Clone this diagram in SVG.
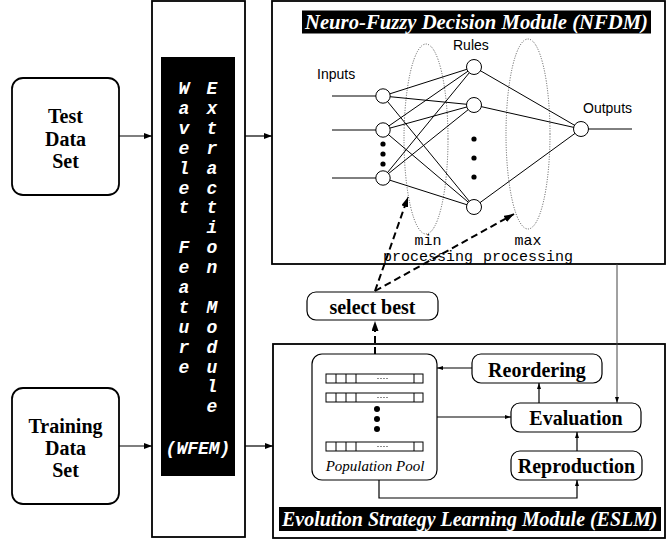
<svg xmlns="http://www.w3.org/2000/svg" width="666" height="542" viewBox="0 0 666 542">
<style>
.box{fill:#fff;stroke:#000;stroke-width:1.8}
.rbox{fill:#fff;stroke:#000;stroke-width:1.2}
.bt{font-family:"Liberation Serif","Times New Roman",serif;font-weight:bold;font-size:20px;fill:#000;text-anchor:middle}
.title{font-family:"Liberation Serif","Times New Roman",serif;font-weight:bold;font-style:italic;font-size:20.5px;fill:#fff}
.vt{font-family:"Liberation Mono","Courier New",monospace;font-weight:bold;font-style:italic;font-size:18px;fill:#fff;text-anchor:middle}
.sans{font-family:"Liberation Sans",Arial,sans-serif;font-size:14px;fill:#000}
.mono{font-family:"Liberation Mono","Courier New",monospace;font-size:15px;fill:#000;text-anchor:middle}
.net{stroke:#000;stroke-width:1;fill:none}
.node{fill:#fff;stroke:#000;stroke-width:1}
.ell{fill:none;stroke:#555;stroke-width:1;stroke-dasharray:1 1.5}
.ar{stroke:#000;stroke-width:1.2;fill:none}
.dash{stroke:#000;stroke-width:2;fill:none;stroke-dasharray:7 4}
</style>
<defs>
<marker id="ah" markerWidth="8" markerHeight="6" refX="8" refY="3" orient="auto" markerUnits="userSpaceOnUse"><path d="M0,0 L8,3 L0,6 z" fill="#000"/></marker>
<marker id="ahs" markerWidth="6" markerHeight="4" refX="6" refY="2" orient="auto" markerUnits="userSpaceOnUse"><path d="M0,0 L6,2 L0,4 z" fill="#000"/></marker>
<marker id="ahd" markerWidth="10" markerHeight="7" refX="10" refY="3.5" orient="auto" markerUnits="userSpaceOnUse"><path d="M0,0 L10,3.5 L0,7 z" fill="#000"/></marker>
</defs>

<g id="test-data">
<rect class="box" x="12" y="78" width="107" height="117" rx="11"/>
<text class="bt" x="65.5" y="123">Test</text>
<text class="bt" x="65.5" y="146">Data</text>
<text class="bt" x="65.5" y="168">Set</text>
</g>

<g id="training-data">
<rect class="box" x="12" y="388" width="107" height="116" rx="11"/>
<text class="bt" x="65.5" y="433">Training</text>
<text class="bt" x="65.5" y="455">Data</text>
<text class="bt" x="65.5" y="477">Set</text>
</g>

<g id="wfem">
<rect class="box" x="152" y="1" width="93" height="536"/>
<rect x="161" y="57" width="74" height="419" fill="#000"/>
<text class="vt"><tspan x="184" y="94">W</tspan><tspan x="184" dy="19.9">a</tspan><tspan x="184" dy="19.9">v</tspan><tspan x="184" dy="19.9">e</tspan><tspan x="184" dy="19.9">l</tspan><tspan x="184" dy="19.9">e</tspan><tspan x="184" dy="19.9">t</tspan><tspan x="184" dy="39.8">F</tspan><tspan x="184" dy="19.9">e</tspan><tspan x="184" dy="19.9">a</tspan><tspan x="184" dy="19.9">t</tspan><tspan x="184" dy="19.9">u</tspan><tspan x="184" dy="19.9">r</tspan><tspan x="184" dy="19.9">e</tspan></text>
<text class="vt"><tspan x="212" y="94">E</tspan><tspan x="212" dy="19.9">x</tspan><tspan x="212" dy="19.9">t</tspan><tspan x="212" dy="19.9">r</tspan><tspan x="212" dy="19.9">a</tspan><tspan x="212" dy="19.9">c</tspan><tspan x="212" dy="19.9">t</tspan><tspan x="212" dy="19.9">i</tspan><tspan x="212" dy="19.9">o</tspan><tspan x="212" dy="19.9">n</tspan><tspan x="212" dy="39.8">M</tspan><tspan x="212" dy="19.9">o</tspan><tspan x="212" dy="19.9">d</tspan><tspan x="212" dy="19.9">u</tspan><tspan x="212" dy="19.9">l</tspan><tspan x="212" dy="19.9">e</tspan></text>
<text class="vt" x="198" y="454" font-size="19">(WFEM)</text>
</g>

<g id="nfdm">
<rect class="box" x="272" y="1" width="393" height="263"/>
<rect x="302" y="10.5" width="349" height="23" fill="#000"/>
<text class="title" x="305" y="29" textLength="343" lengthAdjust="spacingAndGlyphs">Neuro-Fuzzy Decision Module (NFDM)</text>
<ellipse class="ell" cx="426" cy="139" rx="22" ry="95"/>
<ellipse class="ell" cx="528" cy="134" rx="22" ry="95"/>
<g id="network">
<line class="net" x1="332" y1="96" x2="383" y2="96"/>
<line class="net" x1="332" y1="130" x2="383" y2="130"/>
<line class="net" x1="332" y1="178" x2="383" y2="178"/>
<line class="net" x1="383" y1="96" x2="474" y2="67"/>
<line class="net" x1="383" y1="96" x2="474" y2="105"/>
<line class="net" x1="383" y1="96" x2="474" y2="207"/>
<line class="net" x1="383" y1="130" x2="474" y2="67"/>
<line class="net" x1="383" y1="130" x2="474" y2="105"/>
<line class="net" x1="383" y1="130" x2="474" y2="207"/>
<line class="net" x1="383" y1="178" x2="474" y2="67"/>
<line class="net" x1="383" y1="178" x2="474" y2="105"/>
<line class="net" x1="383" y1="178" x2="474" y2="207"/>
<line class="net" x1="474" y1="67" x2="581" y2="129"/>
<line class="net" x1="474" y1="105" x2="581" y2="129"/>
<line class="net" x1="474" y1="207" x2="581" y2="129"/>
<line class="net" x1="581" y1="129" x2="632" y2="129"/>
<circle class="node" cx="383" cy="96" r="7.2"/>
<circle class="node" cx="383" cy="130" r="7.2"/>
<circle class="node" cx="383" cy="178" r="7.2"/>
<circle class="node" cx="474" cy="67" r="7.5"/>
<circle class="node" cx="474" cy="105" r="7.5"/>
<circle class="node" cx="474" cy="207" r="7.5"/>
<circle class="node" cx="581" cy="129" r="7.5"/>
<circle cx="383" cy="144" r="2.6"/>
<circle cx="383" cy="154" r="2.6"/>
<circle cx="383" cy="164" r="2.6"/>
<circle cx="474" cy="139" r="2.6"/>
<circle cx="474" cy="158" r="2.6"/>
<circle cx="474" cy="177" r="2.6"/>
</g>
<text class="sans" x="317" y="79">Inputs</text>
<text class="sans" x="453" y="50">Rules</text>
<text class="sans" x="583" y="113">Outputs</text>
<text class="mono" x="428" y="245">min</text>
<text class="mono" x="528" y="245">max</text>
<text class="mono" x="428" y="261">processing</text>
<text class="mono" x="528" y="261">processing</text>
</g>

<g id="select-best">
<rect class="rbox" x="307" y="292" width="131" height="28" rx="9"/>
<text class="bt" x="372.5" y="314">select best</text>
</g>

<g id="eslm">
<rect class="box" x="273" y="344" width="392" height="194"/>
<rect x="279" y="507" width="382" height="24" fill="#000"/>
<text class="title" x="282" y="525.5" font-size="20" textLength="153.5" lengthAdjust="spacingAndGlyphs">Evolution Strategy</text>
<text class="title" x="440.5" y="525.5" font-size="20" textLength="217" lengthAdjust="spacingAndGlyphs">Learning Module (ESLM)</text>
</g>

<g id="population-pool">
<rect class="rbox" x="312" y="354" width="125" height="126" rx="10"/>
<g fill="none" stroke="#000" stroke-width="1">
<rect x="326" y="374" width="97" height="9"/>
<line x1="336" y1="374" x2="336" y2="383"/><line x1="346" y1="374" x2="346" y2="383"/><line x1="356" y1="374" x2="356" y2="383"/><line x1="414" y1="374" x2="414" y2="383"/>
<rect x="326" y="393" width="97" height="9"/>
<line x1="336" y1="393" x2="336" y2="402"/><line x1="346" y1="393" x2="346" y2="402"/><line x1="356" y1="393" x2="356" y2="402"/><line x1="414" y1="393" x2="414" y2="402"/>
<rect x="326" y="442" width="97" height="9"/>
<line x1="336" y1="442" x2="336" y2="451"/><line x1="346" y1="442" x2="346" y2="451"/><line x1="356" y1="442" x2="356" y2="451"/><line x1="414" y1="442" x2="414" y2="451"/>
</g>
<g fill="#000">
<circle cx="378" cy="378.5" r="0.6"/><circle cx="381" cy="378.5" r="0.6"/><circle cx="384" cy="378.5" r="0.6"/><circle cx="387" cy="378.5" r="0.6"/>
<circle cx="378" cy="397.5" r="0.6"/><circle cx="381" cy="397.5" r="0.6"/><circle cx="384" cy="397.5" r="0.6"/><circle cx="387" cy="397.5" r="0.6"/>
<circle cx="378" cy="446.5" r="0.6"/><circle cx="381" cy="446.5" r="0.6"/><circle cx="384" cy="446.5" r="0.6"/><circle cx="387" cy="446.5" r="0.6"/>
<circle cx="377" cy="409" r="3"/><circle cx="377" cy="419" r="3"/><circle cx="377" cy="429" r="3"/>
</g>
<text x="375" y="471" font-family="'Liberation Serif','Times New Roman',serif" font-style="italic" font-size="15" text-anchor="middle">Population Pool</text>
</g>

<g id="reordering">
<rect class="rbox" x="472" y="354" width="130" height="29" rx="9"/>
<text class="bt" x="537" y="377">Reordering</text>
</g>

<g id="evaluation">
<rect class="rbox" x="511" y="403" width="130" height="29" rx="9"/>
<text class="bt" x="576" y="425">Evaluation</text>
</g>

<g id="reproduction">
<rect class="rbox" x="511" y="451" width="131" height="29" rx="9"/>
<text class="bt" x="576.5" y="473">Reproduction</text>
</g>

<g id="connectors">
<line class="ar" x1="119" y1="136" x2="152" y2="136" marker-end="url(#ah)"/>
<line class="ar" x1="119" y1="446" x2="152" y2="446" marker-end="url(#ah)"/>
<line class="ar" x1="245" y1="136" x2="272" y2="136" marker-end="url(#ah)"/>
<line class="ar" x1="245" y1="446" x2="273" y2="446" marker-end="url(#ah)"/>
<line class="dash" x1="375" y1="291" x2="408" y2="197" marker-end="url(#ahd)"/>
<line class="dash" x1="375" y1="291" x2="514" y2="214" marker-end="url(#ahd)"/>
<line class="dash" x1="375" y1="354" x2="375" y2="321" marker-end="url(#ahd)"/>
<line x1="617" y1="264" x2="617" y2="403" stroke="#444" stroke-width="1" marker-end="url(#ahs)"/>
<line class="ar" x1="472" y1="368" x2="437" y2="368" stroke-width="1" marker-end="url(#ahs)"/>
<line class="ar" x1="539" y1="403" x2="539" y2="383" stroke-width="1" marker-end="url(#ahs)"/>
<line class="ar" x1="437" y1="417" x2="511" y2="417" stroke-width="1" marker-end="url(#ahs)"/>
<line class="ar" x1="577" y1="451" x2="577" y2="432" stroke-width="1" marker-end="url(#ahs)"/>
<polyline class="ar" points="379,480 379,498 577,498 577,480" stroke-width="1" marker-end="url(#ahs)"/>
</g>
</svg>
